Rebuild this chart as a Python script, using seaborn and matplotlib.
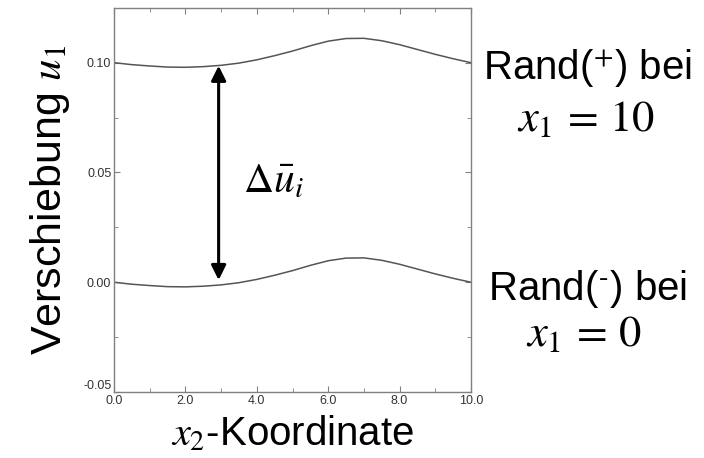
import matplotlib
matplotlib.use('Agg')
import matplotlib.pyplot as plt
import pandas as pd
import seaborn as sns

# data
x2 = [0.0, 0.5, 1.0, 1.5, 2.0, 2.5, 3.0, 3.5, 4.0, 4.5, 5.0,
      5.5, 6.0, 6.5, 7.0, 7.5, 8.0, 8.5, 9.0, 9.5, 10.0]
u_minus = [0.0, -0.0009, -0.0015, -0.0020, -0.0021, -0.0018, -0.0012, -0.0002,
           0.0013, 0.0032, 0.0053, 0.0077, 0.0098, 0.0110, 0.0111, 0.0100,
           0.0082, 0.0060, 0.0038, 0.0018, 0.0]
u_plus = [0.1000, 0.0991, 0.0985, 0.0980, 0.0979, 0.0982, 0.0988, 0.0998,
          0.1013, 0.1032, 0.1053, 0.1077, 0.1098, 0.1110, 0.1111, 0.1100,
          0.1082, 0.1060, 0.1038, 0.1018, 0.1000]
arrow_x = 2.93
arrow_y = (0.001, 0.0986)
x_ticks = [0, 2, 4, 6, 8, 10]
y_ticks = [-0.05, 0.0, 0.05, 0.10]

sns.set_style("ticks")
plt.rcParams['font.family'] = ['Liberation Sans', 'DejaVu Sans']
plt.rcParams['mathtext.fontset'] = 'stix'
plt.rcParams['text.color'] = 'black'
plt.rcParams['axes.labelcolor'] = 'black'

df = pd.DataFrame({'x2': x2 * 2,
                   'u': u_minus + u_plus,
                   'rand': ['-'] * len(x2) + ['+'] * len(x2)})

fig = plt.figure(figsize=(7.04, 4.58), dpi=100)
ax = fig.add_axes([0.162, 0.144, 0.507, 0.839])

sns.lineplot(data=df, x='x2', y='u', units='rand', estimator=None,
             color='#555555', linewidth=1.1, ax=ax)

ax.annotate('', xy=(arrow_x, arrow_y[1]), xytext=(arrow_x, arrow_y[0]),
            arrowprops=dict(arrowstyle='<|-|>', color='black', lw=2.2,
                            mutation_scale=22, shrinkA=0, shrinkB=0))
ax.text(3.6, 0.046, r'$\Delta\bar{u}_i$', fontsize=30, ha='left', va='center')

ax.set_xlim(0, 10)
ax.set_ylim(-0.05, 0.125)
ax.set_xticks(x_ticks)
ax.set_xticklabels([f'{v:.1f}' for v in x_ticks])
ax.set_yticks(y_ticks)
ax.set_yticklabels([f'{v:.2f}' for v in y_ticks])
ax.get_yticklabels()[0].set_va('bottom')
ax.set_xticks([1, 3, 5, 7, 9], minor=True)
ax.set_yticks([-0.025, 0.025, 0.075], minor=True)
ax.tick_params(which='both', direction='in', top=True, right=True,
               color='#808080', labelsize=9, labelcolor='#333333', pad=2)
ax.tick_params(which='major', length=4)
ax.tick_params(which='minor', length=3)
for s in ax.spines.values():
    s.set_color('#808080')
    s.set_linewidth(1.0)

ax.set_xlabel(r'$x_2$-Koordinate', fontsize=29, labelpad=5)
ax.set_ylabel(r'Verschiebung $u_1$', fontsize=31, labelpad=8)

# boundary labels on the right
fig.text(0.835, 0.85, 'Rand($^{+}$) bei', fontsize=29, ha='center', va='center')
fig.text(0.832, 0.74, r'$x_1\,=\,10$', fontsize=32, ha='center', va='center')
fig.text(0.835, 0.37, r'Rand($^{\text{-}}$) bei', fontsize=29, ha='center', va='center')
fig.text(0.830, 0.27, r'$x_1\,=\,0$', fontsize=32, ha='center', va='center')

plt.savefig('out.png', dpi=100)
plt.close()
